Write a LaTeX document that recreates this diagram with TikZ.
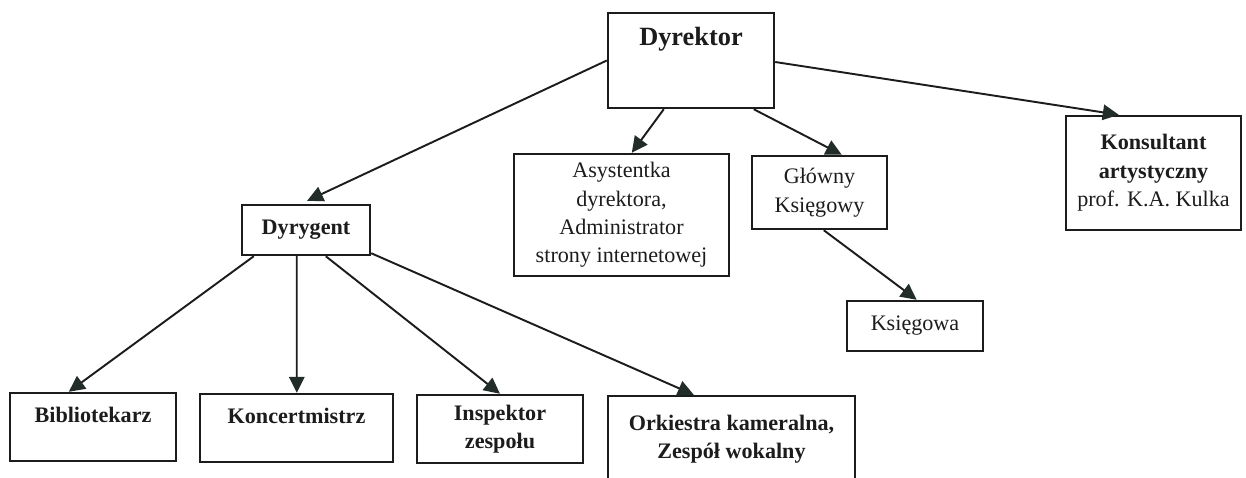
\documentclass[tikz,border=0pt]{standalone}
\usepackage{fontspec}
\setmainfont{Liberation Serif}
\usetikzlibrary{positioning,arrows.meta}
\definecolor{orgline}{RGB}{28,28,28}
\definecolor{orghead}{RGB}{34,44,40}

\begin{document}
\begin{tikzpicture}[
      x=0.02cm, y=-0.02cm,
      box/.style={draw=orgline, line width=1.4pt, fill=white, align=center, inner sep=0pt, text=orgline, font=\fontsize{12.6}{16.2}\selectfont},
      topline/.style={text height=0.58cm, text depth=0.78cm},
      arrow/.style={-{Triangle[length=0.32cm, width=0.31cm, color=orghead]}, line width=1.1pt, draw=orgline}
    ]
      \useasboundingbox (0,0) rectangle (1246,477);
      \clip (0,0) rectangle (1246,477);
      % top level
      \node[box, minimum width=3.32cm, text height=0.64cm, text depth=1.26cm, font=\fontsize{15}{17}\selectfont\bfseries] (dyr) at (691,60.5) {Dyrektor};
      \node[box, minimum width=4.3cm, minimum height=2.44cm] (asy) at (621.5,215) {Asystentka\\dyrektora,\\Administrator\\strony internetowej};
      \node[box, minimum width=2.7cm, minimum height=1.46cm] (glo) at (819.5,192.5) {Główny\\Księgowy};
      \node[box, minimum width=3.5cm, minimum height=2.28cm] (kon) at (1153.5,173) {\textbf{Konsultant}\\\textbf{artystyczny}\\prof. K.A. Kulka};
      \node[box, minimum width=2.72cm, minimum height=1cm] (ksg) at (915,326) {Księgowa};
      \node[box, minimum width=2.56cm, minimum height=1cm, font=\fontsize{12.6}{16.2}\selectfont\bfseries] (dyg) at (306,230) {Dyrygent};
      % orchestra level
      \node[box, topline, minimum width=3.32cm, font=\fontsize{12.6}{16.2}\selectfont\bfseries] (bib) at (93,427) {Bibliotekarz};
      \node[box, topline, minimum width=3.86cm, font=\fontsize{12.6}{16.2}\selectfont\bfseries] (kms) at (296.5,428) {Koncertmistrz};
      \node[box, minimum width=3.32cm, minimum height=1.36cm, font=\fontsize{12.6}{16.2}\selectfont\bfseries] (ins) at (500,429) {Inspektor\\zespołu};
      \node[box, minimum width=4.94cm, minimum height=1.72cm, font=\fontsize{12.6}{16.2}\selectfont\bfseries] (ork) at (731.5,439) {Orkiestra kameralna,\\Zespół wokalny};
      % connectors
      \draw[arrow, shorten >=0.14cm] (dyr.west) -- ([xshift=1.2cm]dyg.north west);
      \draw[arrow] ([xshift=1.14cm]dyr.south west) -- ([xshift=2.38cm]asy.north west);
      \draw[arrow] ([xshift=2.94cm]dyr.south west) -- ([xshift=1.82cm]glo.north west);
      \draw[arrow] ([yshift=-0.03cm]dyr.east) -- ([xshift=1.08cm]kon.north west);
      \draw[arrow] ([xshift=1.46cm]glo.south west) -- ([xshift=1.42cm]ksg.north west);
      \draw[arrow] ([xshift=0.26cm]dyg.south west) -- ([xshift=1.2cm]bib.north west);
      \draw[arrow] ([xshift=1.12cm]dyg.south west) -- ([xshift=1.96cm]kms.north west);
      \draw[arrow] ([xshift=1.7cm]dyg.south west) -- (ins.north);
      \draw[arrow] ([yshift=0.06cm]dyg.south east) -- ([xshift=1.74cm]ork.north west);
    \end{tikzpicture}
\end{document}
